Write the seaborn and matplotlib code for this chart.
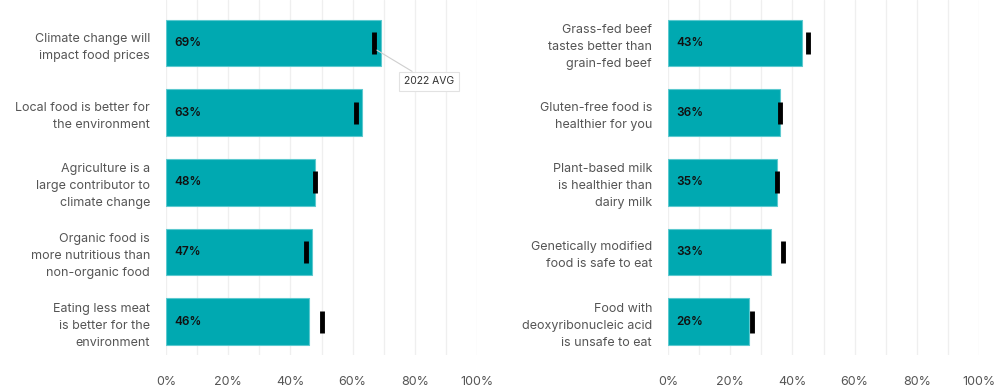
import pandas as pd
import matplotlib.pyplot as plt
import seaborn as sns

# Left panel data
left_labels = [
    "Climate change will\nimpact food prices",
    "Local food is better for\nthe environment",
    "Agriculture is a\nlarge contributor to\nclimate change",
    "Organic food is\nmore nutritious than\nnon-organic food",
    "Eating less meat\nis better for the\nenvironment",
]
left_values = [69, 63, 48, 47, 46]
left_avg = [67, 61, 48, 45, 50]

# Right panel data
right_labels = [
    "Grass-fed beef\ntastes better than\ngrain-fed beef",
    "Gluten-free food is\nhealthier for you",
    "Plant-based milk\nis healthier than\ndairy milk",
    "Genetically modified\nfood is safe to eat",
    "Food with\ndeoxyribonucleic acid\nis unsafe to eat",
]
right_values = [43, 36, 35, 33, 26]
right_avg = [45, 36, 35, 37, 27]

x_ticks = [0, 20, 40, 60, 80, 100]
tick_labels = ["0%", "20%", "40%", "60%", "80%", "100%"]

sns.set_theme(style="white")
plt.rcParams["font.family"] = ["Inter", "DejaVu Sans"]

teal = "#00a9b1"
grey_text = "#555555"

fig = plt.figure(figsize=(9.97, 3.92), dpi=100)
ax_l = fig.add_axes([166 / 997, 1 - 355 / 392, 311 / 997, 355 / 392])
ax_r = fig.add_axes([668 / 997, 1 - 355 / 392, 311 / 997, 355 / 392])


def draw_panel(ax, labels, values, avg):
    df = pd.DataFrame({"label": labels, "value": values, "avg": avg})
    for g in range(0, 101, 10):
        ax.axvline(g, color="#efefef", lw=0.9, zorder=0)
    sns.barplot(data=df, x="value", y="label", color=teal, width=0.67,
                saturation=1, edgecolor="#5cc9cf", linewidth=0.8, ax=ax, zorder=2)
    sns.scatterplot(data=df, x="avg", y="label", marker="|", s=230,
                    linewidth=3.5, color="black", ax=ax, zorder=3, legend=False)
    for i, v in enumerate(values):
        ax.text(2.6, i, f"{v}%", va="center", ha="left", fontsize=8.5,
                fontweight="semibold", color="#111111", zorder=4)
    ax.set_xlim(0, 100)
    ax.set_ylim(4.48, -0.62)
    ax.set_xticks(x_ticks)
    ax.set_xticklabels(tick_labels)
    ax.set_xlabel("")
    ax.set_ylabel("")
    ax.tick_params(axis="x", length=0, pad=15, labelsize=9, labelcolor=grey_text)
    ax.tick_params(axis="y", length=0, pad=11.5, labelsize=9, labelcolor=grey_text)
    for lbl in ax.get_yticklabels():
        lbl.set_horizontalalignment("right")
        lbl.set_multialignment("right")
        lbl.set_linespacing(1.55)
    sns.despine(ax=ax, left=True, bottom=True)


draw_panel(ax_l, left_labels, left_values, left_avg)
draw_panel(ax_r, right_labels, right_values, right_avg)

# Callout for the 2022 average marker
ax_l.annotate("2022 AVG", xy=(left_avg[0] + 0.8, 0.1), xytext=(84.5, 0.55),
              fontsize=7.5, color="#333333", ha="center", va="center",
              bbox=dict(boxstyle="square,pad=0.45", fc="white", ec="#e2e2e2", lw=0.8),
              arrowprops=dict(arrowstyle="-", color="#cfcfcf", lw=0.8,
                              shrinkA=0, shrinkB=0),
              zorder=5)

plt.savefig("out.png", dpi=100)
